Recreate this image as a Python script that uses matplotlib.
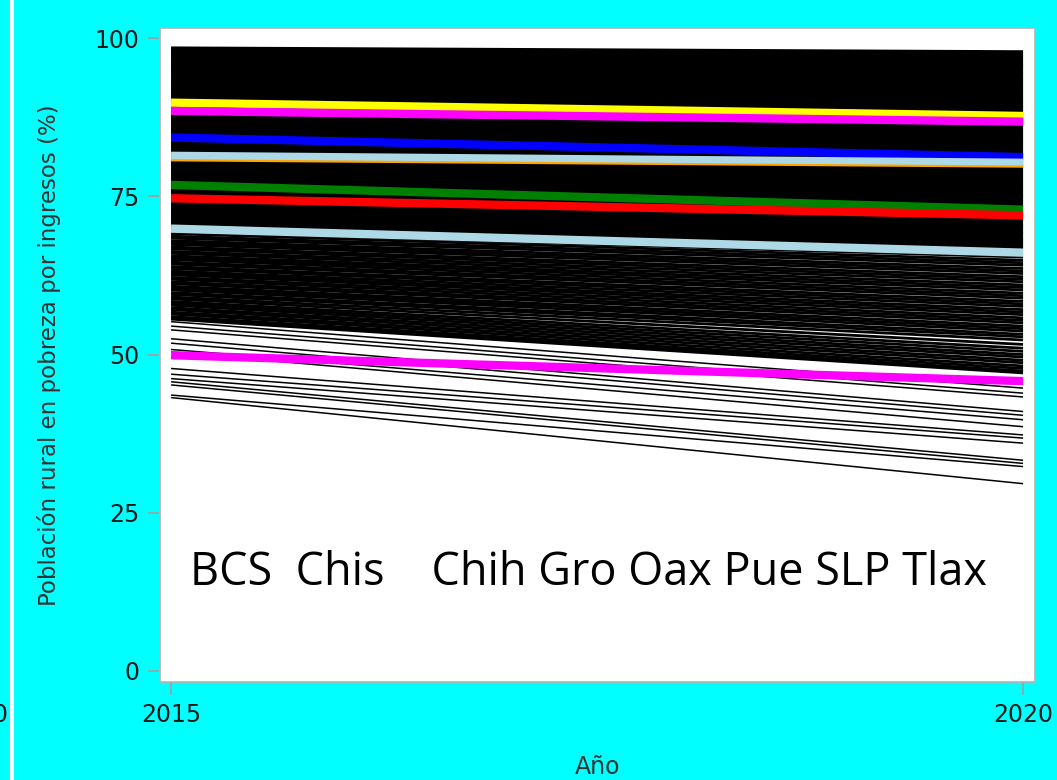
import matplotlib
matplotlib.use("Agg")
import matplotlib.pyplot as plt
from matplotlib.patches import Rectangle

# ---------------- data ----------------
anios = [2015, 2020]

# municipios (black lines): value in 2015 and 2020 (% rural population in income poverty)
alto_2015 = [98.4, 98.1, 97.7, 97.4, 97.0, 96.7, 96.3, 96.0, 95.6, 95.3,
             94.9, 94.6, 94.2, 93.9, 93.5, 93.2, 92.8, 92.5, 92.1, 91.8,
             91.4, 91.1, 90.7, 90.4, 90.0, 89.7, 89.3, 89.0, 88.6, 88.3,
             87.9, 87.6, 87.2, 86.9, 86.5, 86.2, 85.8, 85.5, 85.1, 84.8,
             84.4, 84.1, 83.7, 83.4, 83.0, 82.7, 82.3, 82.0, 81.6, 81.3,
             80.9, 80.6, 80.2, 79.9, 79.5, 79.2, 78.8, 78.5, 78.1, 77.8,
             77.4, 77.1, 76.7, 76.4, 76.0, 75.7, 75.3, 75.0, 74.6, 74.3,
             73.9, 73.6, 73.2, 72.9, 72.5, 72.2, 71.8, 71.5, 71.1, 70.8,
             70.4, 70.1]
alto_2020 = [97.8, 97.5, 97.1, 96.7, 96.3, 95.9, 95.6, 95.2, 94.8, 94.4,
             94.0, 93.6, 93.3, 92.9, 92.5, 92.1, 91.7, 91.3, 91.0, 90.6,
             90.2, 89.8, 89.4, 89.0, 88.7, 88.3, 87.9, 87.5, 87.1, 86.7,
             86.4, 86.0, 85.6, 85.2, 84.8, 84.4, 84.1, 83.7, 83.3, 82.9,
             82.5, 82.1, 81.8, 81.4, 81.0, 80.6, 80.2, 79.8, 79.5, 79.1,
             78.7, 78.3, 77.9, 77.5, 77.2, 76.8, 76.4, 76.0, 75.6, 75.2,
             74.9, 74.5, 74.1, 73.7, 73.3, 72.9, 72.6, 72.2, 71.8, 71.4,
             71.0, 70.6, 70.3, 69.9, 69.5, 69.1, 68.7, 68.3, 68.0, 67.6,
             67.2, 66.8]

medio_2015 = [69.8, 69.4, 69.1, 68.7, 68.4, 68.0, 67.7, 67.4, 67.0, 66.7,
              66.3, 66.0, 65.6, 65.3, 65.0, 64.6, 64.3, 63.9, 63.6, 63.2,
              62.9, 62.6, 62.2, 61.9, 61.5, 61.2, 60.8, 60.5, 60.2, 59.8,
              59.5, 59.1, 58.8, 58.4, 58.1, 57.8, 57.4, 57.1, 56.7, 56.4,
              56.0, 55.8, 55.6]
medio_2020 = [65.8, 65.4, 64.9, 64.5, 64.1, 63.6, 63.2, 62.8, 62.3, 61.9,
              61.5, 61.0, 60.6, 60.2, 59.7, 59.3, 58.9, 58.4, 58.0, 57.6,
              57.1, 56.7, 56.3, 55.8, 55.4, 55.0, 54.5, 54.1, 53.7, 53.2,
              52.8, 52.3, 51.6, 51.0, 50.5, 50.0, 49.6, 49.1, 48.7, 48.2,
              47.8, 47.4, 47.1]

bajo_2015 = [55.2, 54.5, 53.9, 52.5, 51.8, 50.8, 50.4, 47.8, 46.9, 46.2,
             45.7, 45.2, 43.6, 43.2]
bajo_2020 = [44.7, 43.9, 43.3, 41.0, 40.4, 39.7, 38.6, 37.3, 36.8, 36.0,
             33.3, 32.8, 32.3, 29.6]

# highlighted lines
dest_2015 = [89.8, 88.5, 84.3, 81.4, 80.7, 76.8, 74.7, 69.9, 49.9]
dest_2020 = [87.7, 86.8, 81.2, 80.3, 79.7, 72.9, 72.0, 66.1, 45.8]
dest_colores = ['#ffff00', '#ff00ff', '#0000ff', '#add8e6', '#ffa500',
                '#008000', '#ff0000', '#add8e6', '#ff00ff']
dest_grosor = [6, 6, 6, 6, 1.6, 6, 6, 6, 6]

anotacion = "BCS  Chis    Chih Gro Oax Pue SLP Tlax"
yticks = [0, 25, 50, 75, 100]

# ---------------- figure ----------------
W, H = 1057, 780
fig = plt.figure(figsize=(W / 100, H / 100), dpi=100, facecolor='#00ffff')
ax = fig.add_axes([160 / W, 1 - 682 / H, (1035 - 160) / W, (682 - 28) / H])
ax.set_facecolor('white')

for a, b in zip(alto_2015, alto_2020):
    ax.plot(anios, [a, b], color='black', lw=2.6, solid_capstyle='butt')
for a, b in zip(medio_2015, medio_2020):
    ax.plot(anios, [a, b], color='black', lw=2.0, solid_capstyle='butt')
for a, b in zip(bajo_2015, bajo_2020):
    ax.plot(anios, [a, b], color='black', lw=1.1, solid_capstyle='butt')
for a, b, c, w in zip(dest_2015, dest_2020, dest_colores, dest_grosor):
    ax.plot(anios, [a, b], color=c, lw=w, solid_capstyle='butt')

ax.set_xlim(2014.935, 2020.07)
ax.set_ylim(-1.74, 101.6)
ax.set_xticks(anios)
ax.set_xticklabels([str(a) for a in anios])
ax.set_yticks(yticks)
ax.set_yticklabels([str(t) for t in yticks])
for s in ax.spines.values():
    s.set_color('#b4b4b4')
    s.set_linewidth(1.2)
ax.tick_params(axis='both', colors='#a0a0a0', length=9, width=1.2,
               labelsize=17, labelcolor='#1a1a1a', pad=6)

ax.set_xlabel('Año', fontsize=17, color='#333333', labelpad=20)
ax.set_ylabel('Población rural en pobreza por ingresos (%)', fontsize=16.5,
              color='#333333', labelpad=24)

ax.text(2015.11, 15.5, anotacion, fontsize=32.4, va='center', ha='left',
        color='black', family=['Liberation Sans Narrow', 'Open Sans', 'DejaVu Sans'])

# decorative pieces at the left border
fig.patches.append(Rectangle((10 / W, 0), 4 / W, 1, transform=fig.transFigure,
                             facecolor='white', edgecolor='none'))
fig.text(0.0, 1 - 715 / H, '0', fontsize=17, ha='center', va='center',
         color='#1a1a1a')

fig.savefig('out.png', dpi=100, facecolor=fig.get_facecolor())
